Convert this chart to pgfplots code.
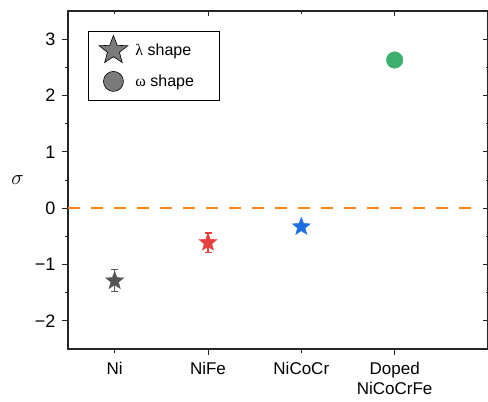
\documentclass[border=0pt]{standalone}
\usepackage{pgfplots}
\pgfplotsset{compat=1.18}
\usepackage{fontspec}
\setmainfont{Liberation Sans}
\newfontfamily\grk{Liberation Serif}
\definecolor{nigray}{HTML}{555555}
\definecolor{nifered}{HTML}{E8403F}
\definecolor{ncblue}{HTML}{1F6FE0}
\definecolor{dgreen}{HTML}{3CB06C}
\definecolor{dorange}{HTML}{FF8512}
\definecolor{leggray}{HTML}{7A7A7A}
\pgfdeclareplotmark{fstar}{%
  \pgfpathmoveto{\pgfpointpolar{90}{\pgfplotmarksize}}%
  \pgfpathlineto{\pgfpointpolar{126}{0.42\pgfplotmarksize}}%
  \pgfpathlineto{\pgfpointpolar{162}{\pgfplotmarksize}}%
  \pgfpathlineto{\pgfpointpolar{198}{0.42\pgfplotmarksize}}%
  \pgfpathlineto{\pgfpointpolar{234}{\pgfplotmarksize}}%
  \pgfpathlineto{\pgfpointpolar{270}{0.42\pgfplotmarksize}}%
  \pgfpathlineto{\pgfpointpolar{306}{\pgfplotmarksize}}%
  \pgfpathlineto{\pgfpointpolar{342}{0.42\pgfplotmarksize}}%
  \pgfpathlineto{\pgfpointpolar{18}{\pgfplotmarksize}}%
  \pgfpathlineto{\pgfpointpolar{54}{0.42\pgfplotmarksize}}%
  \pgfpathclose
  \pgfusepathqfillstroke
}
\begin{document}
\begin{tikzpicture}
\pgfplotsset{common/.style={
  scale only axis, width=420pt, height=338pt,
  xmin=0.5, xmax=5, ymin=-2.5, ymax=3.5,
  axis line style={line width=1.1pt, black!85},
  every tick/.style={line width=1pt, black!85},
}}
% main axis
\begin{axis}[common,
  xtick={1,2,3,4},
  xticklabels={Ni,NiFe,NiCoCr,{Doped\\NiCoCrFe}},
  xticklabel style={align=center, font=\fontsize{17}{20}\selectfont, yshift=-4pt},
  xtick style={draw=none},
  ytick={-2,-1,0,1,2,3},
  yticklabels={−2,−1,0,1,2,3},
  yticklabel style={font=\fontsize{18}{20}\selectfont, xshift=-3pt},
  minor ytick={-1.5,-0.5,0.5,1.5,2.5},
  ytick pos=left, xtick pos=bottom,
  tick align=outside,
  major tick length=6pt, minor tick length=3.5pt,
  ylabel={$\sigma$},
  ylabel style={rotate=-90, at={(axis description cs:-0.12,0.5)}, anchor=center, font=\fontsize{20}{22}\selectfont},
  legend style={at={(0.0476,0.941)}, anchor=north west, draw=black, line width=0.9pt,
    font=\fontsize{16}{18}\selectfont, inner xsep=10pt, inner ysep=9pt, row sep=11pt,
    column sep=5pt, nodes={inner sep=2pt}},
  legend cell align=left,
  legend image code/.code={%
    \path[use as bounding box, draw=none, fill=none] (0pt,-10pt) rectangle (30pt,10pt);
    \draw[#1] plot coordinates {(15pt,0pt)};},
]
\addplot[dorange, line width=2.4pt, dash pattern=on 12pt off 11pt, forget plot]
  coordinates {(0.5,0) (4.885,0)};
\addplot[only marks, mark=fstar, mark size=9.5pt, color=nigray, forget plot,
  error bars/.cd, y dir=both, y explicit,
  error bar style={line width=1.2pt, nigray},
  error mark options={rotate=90, mark size=3.5pt, line width=1.2pt, nigray}]
  coordinates {(1,-1.29) +- (0,0.195)};
\addplot[only marks, mark=fstar, mark size=9.5pt, color=nifered, forget plot,
  error bars/.cd, y dir=both, y explicit,
  error bar style={line width=1.2pt, nifered},
  error mark options={rotate=90, mark size=3.5pt, line width=1.2pt, nifered}]
  coordinates {(2,-0.61) +- (0,0.17)};
\addplot[only marks, mark=fstar, mark size=9.5pt, color=ncblue, forget plot]
  coordinates {(3,-0.33)};
\addplot[only marks, mark=*, mark size=8.3pt, color=dgreen, forget plot]
  coordinates {(4,2.63)};
\addlegendimage{only marks, mark=fstar, mark size=15pt, fill=leggray, draw=black, line width=0.6pt}
\addlegendentry{{\grk λ} shape\hspace*{13pt}}
\addlegendimage{only marks, mark=*, mark size=10pt, fill=leggray, draw=black, line width=0.6pt}
\addlegendentry{{\grk ω} shape\hspace*{13pt}}
\end{axis}
% bottom ticks (outside)
\begin{axis}[common, axis line style={draw=none},
  xtick={2,4}, minor xtick={1,3}, xticklabels={}, ytick=\empty,
  xtick pos=bottom, tick align=outside,
  major tick length=6pt, minor tick length=3.5pt]
\end{axis}
% top and right ticks (inside)
\begin{axis}[common, axis line style={draw=none},
  xtick={2,4}, minor xtick={1,3}, xticklabels={},
  ytick={-2,-1,0,1,2,3}, minor ytick={-1.5,-0.5,0.5,1.5,2.5}, yticklabels={},
  xtick pos=top, ytick pos=right, tick align=inside,
  major tick length=5pt, minor tick length=2.5pt]
\end{axis}
\pgfresetboundingbox
\path ([xshift=-68pt,yshift=-52pt]current axis.south west) rectangle ([yshift=11pt]current axis.north east);
\end{tikzpicture}
\end{document}
